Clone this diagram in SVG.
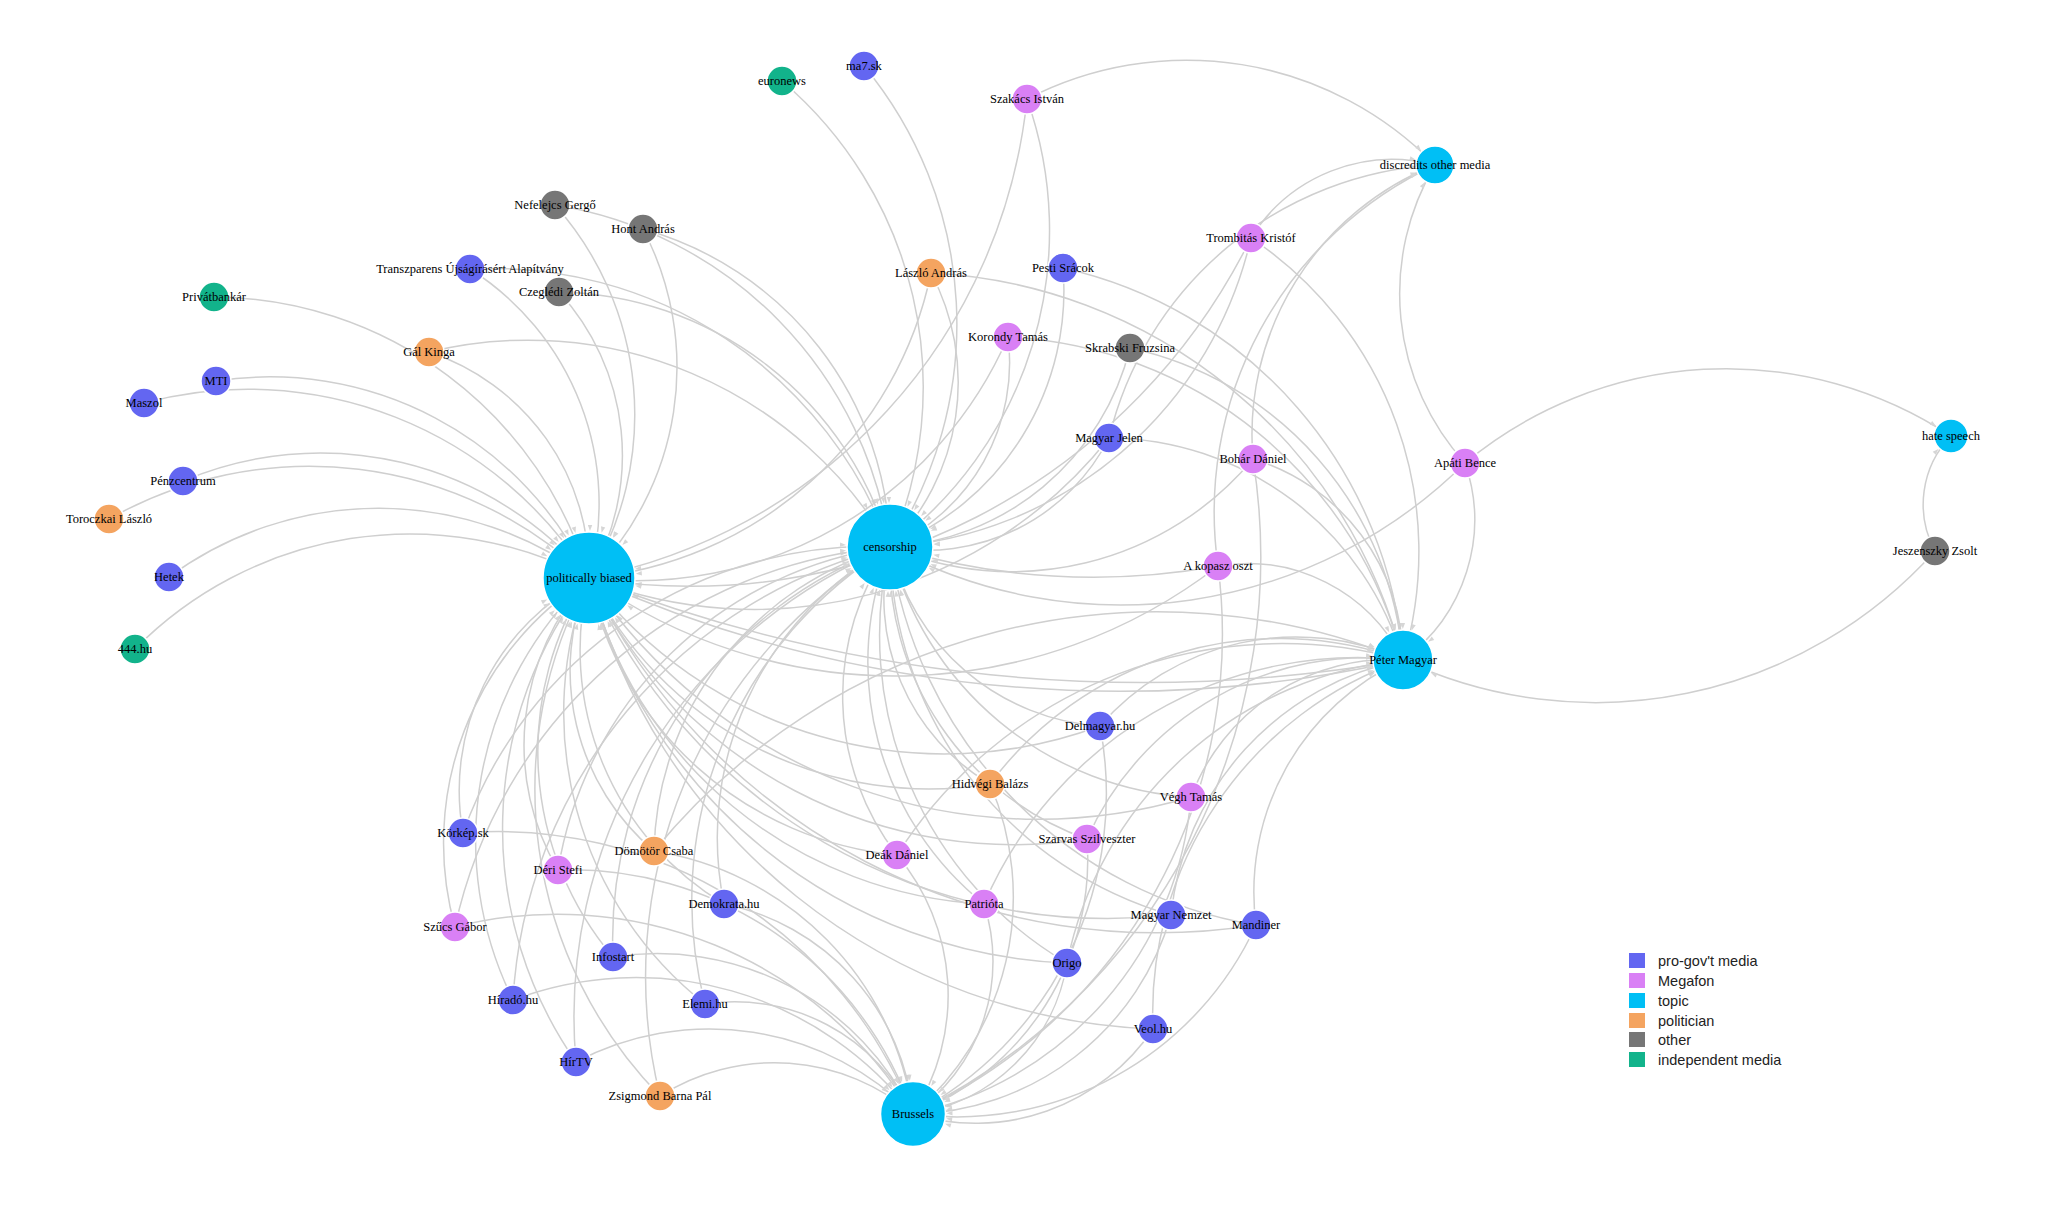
<svg xmlns="http://www.w3.org/2000/svg" width="2048" height="1226" viewBox="0 0 2048 1226">
<style>
.e{fill:none;stroke:#cfcfcf;stroke-width:1.5}
.p{marker-end:url(#aP)}.c{marker-end:url(#aC)}.b{marker-end:url(#aB)}.m{marker-end:url(#aM)}.d{marker-end:url(#aD)}.h{marker-end:url(#aH)}
.n circle{stroke:#ffffff;stroke-width:1.5}
.n text{font-family:"Liberation Serif","Times New Roman",serif;font-size:12.5px;fill:#000;text-anchor:middle;dominant-baseline:central}
.pg{fill:#6366f1}.mg{fill:#d980f5}.tp{fill:#00bff5}.po{fill:#f4a460}.ot{fill:#767676}.im{fill:#12b38b}
.leg text{font-family:"Liberation Sans",Arial,sans-serif;font-size:14.5px;fill:#222;dominant-baseline:central}
.ah{fill:#d6d6d6}
</style>
<defs>
<marker id="aP" markerUnits="userSpaceOnUse" orient="auto" refX="53" refY="0" markerWidth="8" markerHeight="8" overflow="visible"><path class="ah" d="M0,-2.2L6,0L0,2.2Z"/></marker>
<marker id="aC" markerUnits="userSpaceOnUse" orient="auto" refX="50" refY="0" markerWidth="8" markerHeight="8" overflow="visible"><path class="ah" d="M0,-2.2L6,0L0,2.2Z"/></marker>
<marker id="aB" markerUnits="userSpaceOnUse" orient="auto" refX="39.5" refY="0" markerWidth="8" markerHeight="8" overflow="visible"><path class="ah" d="M0,-2.2L6,0L0,2.2Z"/></marker>
<marker id="aM" markerUnits="userSpaceOnUse" orient="auto" refX="37" refY="0" markerWidth="8" markerHeight="8" overflow="visible"><path class="ah" d="M0,-2.2L6,0L0,2.2Z"/></marker>
<marker id="aD" markerUnits="userSpaceOnUse" orient="auto" refX="26" refY="0" markerWidth="8" markerHeight="8" overflow="visible"><path class="ah" d="M0,-2.2L6,0L0,2.2Z"/></marker>
<marker id="aH" markerUnits="userSpaceOnUse" orient="auto" refX="24" refY="0" markerWidth="8" markerHeight="8" overflow="visible"><path class="ah" d="M0,-2.2L6,0L0,2.2Z"/></marker>
</defs>
<g id="edges">
<path class="e p" d="M214 297A394 394 0 0 1 589 578"/>
<path class="e p" d="M144 403A402 402 0 0 1 589 578"/>
<path class="e p" d="M216 381A354 354 0 0 1 589 578"/>
<path class="e p" d="M183 481A351 351 0 0 1 589 578"/>
<path class="e p" d="M109 519A406 406 0 0 1 589 578"/>
<path class="e p" d="M169 577A353 353 0 0 1 589 578"/>
<path class="e p" d="M135 649A386 386 0 0 1 589 578"/>
<path class="e p" d="M429 352A233 233 0 0 1 589 578"/>
<path class="e p" d="M470 269A278 278 0 0 1 589 578"/>
<path class="e p" d="M559 292A242 242 0 0 1 589 578"/>
<path class="e p" d="M643 229A297 297 0 0 1 589 578"/>
<path class="e p" d="M555 205A315 315 0 0 1 589 578"/>
<path class="e p" d="M1027 99A545 545 0 0 1 589 578"/>
<path class="e p" d="M931 273A385 385 0 0 1 589 578"/>
<path class="e p" d="M1008 337A406 406 0 0 1 589 578"/>
<path class="e p" d="M1109 438A452 452 0 0 1 589 578"/>
<path class="e p" d="M1251 238A625 625 0 0 1 589 578"/>
<path class="e p" d="M1100 726A447 447 0 0 1 589 578"/>
<path class="e p" d="M990 784A379 379 0 0 1 589 578"/>
<path class="e p" d="M1191 797A538 538 0 0 1 589 578"/>
<path class="e p" d="M1087 839A472 472 0 0 1 589 578"/>
<path class="e p" d="M897 855A348 348 0 0 1 589 578"/>
<path class="e p" d="M984 904A430 430 0 0 1 589 578"/>
<path class="e p" d="M1171 915A565 565 0 0 1 589 578"/>
<path class="e p" d="M1067 963A516 516 0 0 1 589 578"/>
<path class="e p" d="M1256 925A632 632 0 0 1 589 578"/>
<path class="e p" d="M1153 1029A607 607 0 0 1 589 578"/>
<path class="e p" d="M463 833A239 239 0 0 1 589 578"/>
<path class="e p" d="M558 870A247 247 0 0 1 589 578"/>
<path class="e p" d="M455 927A314 314 0 0 1 589 578"/>
<path class="e p" d="M654 851A236 236 0 0 1 589 578"/>
<path class="e p" d="M724 904A296 296 0 0 1 589 578"/>
<path class="e p" d="M613 957A319 319 0 0 1 589 578"/>
<path class="e p" d="M513 1000A360 360 0 0 1 589 578"/>
<path class="e p" d="M705 1004A371 371 0 0 1 589 578"/>
<path class="e p" d="M576 1062A407 407 0 0 1 589 578"/>
<path class="e p" d="M660 1096A439 439 0 0 1 589 578"/>
<path class="e p" d="M1218 566A528 528 0 0 1 589 578"/>
<path class="e c" d="M782 81A402 402 0 0 1 890 547"/>
<path class="e c" d="M864 66A405 405 0 0 1 890 547"/>
<path class="e c" d="M1027 99A394 394 0 0 1 890 547"/>
<path class="e c" d="M555 205A402 402 0 0 1 890 547"/>
<path class="e c" d="M643 229A338 338 0 0 1 890 547"/>
<path class="e c" d="M470 269A423 423 0 0 1 890 547"/>
<path class="e c" d="M559 292A351 351 0 0 1 890 547"/>
<path class="e c" d="M429 352A420 420 0 0 1 890 547"/>
<path class="e c" d="M931 273A233 233 0 0 1 890 547"/>
<path class="e c" d="M1063 268A276 276 0 0 1 890 547"/>
<path class="e c" d="M1008 337A202 202 0 0 1 890 547"/>
<path class="e c" d="M1130 348A262 262 0 0 1 890 547"/>
<path class="e c" d="M1109 438A205 205 0 0 1 890 547"/>
<path class="e c" d="M1251 238A399 399 0 0 1 890 547"/>
<path class="e c" d="M1253 459A314 314 0 0 1 890 547"/>
<path class="e c" d="M1218 566A700 700 0 0 1 890 547"/>
<path class="e c" d="M1465 463A488 488 0 0 1 890 547"/>
<path class="e c" d="M1100 726A232 232 0 0 1 890 547"/>
<path class="e c" d="M990 784A216 216 0 0 1 890 547"/>
<path class="e c" d="M1191 797A329 329 0 0 1 890 547"/>
<path class="e c" d="M1087 839A296 296 0 0 1 890 547"/>
<path class="e c" d="M897 855A259 259 0 0 1 890 547"/>
<path class="e c" d="M984 904A310 310 0 0 1 890 547"/>
<path class="e c" d="M1171 915A389 389 0 0 1 890 547"/>
<path class="e c" d="M1067 963A380 380 0 0 1 890 547"/>
<path class="e c" d="M1256 925A442 442 0 0 1 890 547"/>
<path class="e c" d="M463 833A432 432 0 0 1 890 547"/>
<path class="e c" d="M558 870A389 389 0 0 1 890 547"/>
<path class="e c" d="M455 927A485 485 0 0 1 890 547"/>
<path class="e c" d="M654 851A323 323 0 0 1 890 547"/>
<path class="e c" d="M724 904A331 331 0 0 1 890 547"/>
<path class="e c" d="M613 957A416 416 0 0 1 890 547"/>
<path class="e c" d="M513 1000A495 495 0 0 1 890 547"/>
<path class="e c" d="M705 1004A414 414 0 0 1 890 547"/>
<path class="e c" d="M576 1062A507 507 0 0 1 890 547"/>
<path class="e c" d="M660 1096A500 500 0 0 1 890 547"/>
<path class="e b" d="M463 833A446 446 0 0 1 913 1114"/>
<path class="e b" d="M558 870A362 362 0 0 1 913 1114"/>
<path class="e b" d="M455 927A416 416 0 0 1 913 1114"/>
<path class="e b" d="M654 851A310 310 0 0 1 913 1114"/>
<path class="e b" d="M724 904A237 237 0 0 1 913 1114"/>
<path class="e b" d="M613 957A284 284 0 0 1 913 1114"/>
<path class="e b" d="M513 1000A349 349 0 0 1 913 1114"/>
<path class="e b" d="M705 1004A198 198 0 0 1 913 1114"/>
<path class="e b" d="M576 1062A286 286 0 0 1 913 1114"/>
<path class="e b" d="M660 1096A213 213 0 0 1 913 1114"/>
<path class="e b" d="M897 855A218 218 0 0 1 913 1114"/>
<path class="e b" d="M984 904A186 186 0 0 1 913 1114"/>
<path class="e b" d="M990 784A285 285 0 0 1 913 1114"/>
<path class="e b" d="M1100 726A362 362 0 0 1 913 1114"/>
<path class="e b" d="M1191 797A354 354 0 0 1 913 1114"/>
<path class="e b" d="M1087 839A273 273 0 0 1 913 1114"/>
<path class="e b" d="M1171 915A274 274 0 0 1 913 1114"/>
<path class="e b" d="M1067 963A181 181 0 0 1 913 1114"/>
<path class="e b" d="M1256 925A329 329 0 0 1 913 1114"/>
<path class="e b" d="M1153 1029A214 214 0 0 1 913 1114"/>
<path class="e b" d="M1253 459A620 620 0 0 1 913 1114"/>
<path class="e b" d="M1218 566A527 527 0 0 1 913 1114"/>
<path class="e m" d="M589 578A1300 1300 0 0 0 1403 660"/>
<path class="e m" d="M589 578A1520 1520 0 0 0 1403 660"/>
<path class="e m" d="M1251 238A377 377 0 0 1 1403 660"/>
<path class="e m" d="M1130 348A348 348 0 0 1 1403 660"/>
<path class="e m" d="M1008 337A429 429 0 0 1 1403 660"/>
<path class="e m" d="M1063 268A436 436 0 0 1 1403 660"/>
<path class="e m" d="M931 273A513 513 0 0 1 1403 660"/>
<path class="e m" d="M1109 438A309 309 0 0 1 1403 660"/>
<path class="e m" d="M1253 459A211 211 0 0 1 1403 660"/>
<path class="e m" d="M1218 566A174 174 0 0 1 1403 660"/>
<path class="e m" d="M1465 463A173 173 0 0 1 1403 660"/>
<path class="e m" d="M1935 551A456 456 0 0 1 1403 660"/>
<path class="e m" d="M1100 726A260 260 0 0 1 1403 660"/>
<path class="e m" d="M990 784A362 362 0 0 1 1403 660"/>
<path class="e m" d="M1191 797A212 212 0 0 1 1403 660"/>
<path class="e m" d="M1087 839A305 305 0 0 1 1403 660"/>
<path class="e m" d="M984 904A407 407 0 0 1 1403 660"/>
<path class="e m" d="M1171 915A290 290 0 0 1 1403 660"/>
<path class="e m" d="M1067 963A380 380 0 0 1 1403 660"/>
<path class="e m" d="M1256 925A255 255 0 0 1 1403 660"/>
<path class="e m" d="M1153 1029A374 374 0 0 1 1403 660"/>
<path class="e m" d="M897 855A456 456 0 0 1 1403 660"/>
<path class="e m" d="M654 851A649 649 0 0 1 1403 660"/>
<path class="e d" d="M1027 99A347 347 0 0 1 1435 165"/>
<path class="e d" d="M1251 238A166 166 0 0 1 1435 165"/>
<path class="e d" d="M1109 438A357 357 0 0 1 1435 165"/>
<path class="e d" d="M1253 459A290 290 0 0 1 1435 165"/>
<path class="e d" d="M1465 463A252 252 0 0 1 1435 165"/>
<path class="e d" d="M1218 566A383 383 0 0 1 1435 165"/>
<path class="e h" d="M1465 463A409 409 0 0 1 1951 436"/>
<path class="e h" d="M1935 551A98 98 0 0 1 1951 436"/>
</g>
<g id="nodes">
<g id="n-euronews" class="n"><circle class="im" cx="782" cy="81" r="15"/><text x="782" y="81">euronews</text></g>
<g id="n-ma7sk" class="n"><circle class="pg" cx="864" cy="66" r="15"/><text x="864" y="66">ma7.sk</text></g>
<g id="n-szakacs" class="n"><circle class="mg" cx="1027" cy="99" r="15"/><text x="1027" y="99">Szakács István</text></g>
<g id="n-nefelejcs" class="n"><circle class="ot" cx="555" cy="205" r="15"/><text x="555" y="205">Nefelejcs Gergő</text></g>
<g id="n-hont" class="n"><circle class="ot" cx="643" cy="229" r="15"/><text x="643" y="229">Hont András</text></g>
<g id="n-trombitas" class="n"><circle class="mg" cx="1251" cy="238" r="15"/><text x="1251" y="238">Trombitás Kristóf</text></g>
<g id="n-transzparens" class="n"><circle class="pg" cx="470" cy="269" r="15"/><text x="470" y="269">Transzparens Újságírásért Alapítvány</text></g>
<g id="n-czegledi" class="n"><circle class="ot" cx="559" cy="292" r="15"/><text x="559" y="292">Czeglédi Zoltán</text></g>
<g id="n-privatbankar" class="n"><circle class="im" cx="214" cy="297" r="15"/><text x="214" y="297">Privátbankár</text></g>
<g id="n-laszlo" class="n"><circle class="po" cx="931" cy="273" r="15"/><text x="931" y="273">László András</text></g>
<g id="n-pesti" class="n"><circle class="pg" cx="1063" cy="268" r="15"/><text x="1063" y="268">Pesti Srácok</text></g>
<g id="n-korondy" class="n"><circle class="mg" cx="1008" cy="337" r="15"/><text x="1008" y="337">Korondy Tamás</text></g>
<g id="n-skrabski" class="n"><circle class="ot" cx="1130" cy="348" r="15"/><text x="1130" y="348">Skrabski Fruzsina</text></g>
<g id="n-gal" class="n"><circle class="po" cx="429" cy="352" r="15"/><text x="429" y="352">Gál Kinga</text></g>
<g id="n-mti" class="n"><circle class="pg" cx="216" cy="381" r="15"/><text x="216" y="381">MTI</text></g>
<g id="n-maszol" class="n"><circle class="pg" cx="144" cy="403" r="15"/><text x="144" y="403">Maszol</text></g>
<g id="n-magyarjelen" class="n"><circle class="pg" cx="1109" cy="438" r="15"/><text x="1109" y="438">Magyar Jelen</text></g>
<g id="n-bohar" class="n"><circle class="mg" cx="1253" cy="459" r="15"/><text x="1253" y="459">Bohár Dániel</text></g>
<g id="n-apati" class="n"><circle class="mg" cx="1465" cy="463" r="15"/><text x="1465" y="463">Apáti Bence</text></g>
<g id="n-penzcentrum" class="n"><circle class="pg" cx="183" cy="481" r="15"/><text x="183" y="481">Pénzcentrum</text></g>
<g id="n-toroczkai" class="n"><circle class="po" cx="109" cy="519" r="15"/><text x="109" y="519">Toroczkai László</text></g>
<g id="n-akopasz" class="n"><circle class="mg" cx="1218" cy="566" r="15"/><text x="1218" y="566">A kopasz oszt</text></g>
<g id="n-jeszenszky" class="n"><circle class="ot" cx="1935" cy="551" r="15"/><text x="1935" y="551">Jeszenszky Zsolt</text></g>
<g id="n-hetek" class="n"><circle class="pg" cx="169" cy="577" r="15"/><text x="169" y="577">Hetek</text></g>
<g id="n-444" class="n"><circle class="im" cx="135" cy="649" r="15"/><text x="135" y="649">444.hu</text></g>
<g id="n-delmagyar" class="n"><circle class="pg" cx="1100" cy="726" r="15"/><text x="1100" y="726">Delmagyar.hu</text></g>
<g id="n-hidvegi" class="n"><circle class="po" cx="990" cy="784" r="15"/><text x="990" y="784">Hidvégi Balázs</text></g>
<g id="n-vegh" class="n"><circle class="mg" cx="1191" cy="797" r="15"/><text x="1191" y="797">Végh Tamás</text></g>
<g id="n-korkep" class="n"><circle class="pg" cx="463" cy="833" r="15"/><text x="463" y="833">Körkép.sk</text></g>
<g id="n-szarvas" class="n"><circle class="mg" cx="1087" cy="839" r="15"/><text x="1087" y="839">Szarvas Szilveszter</text></g>
<g id="n-domotor" class="n"><circle class="po" cx="654" cy="851" r="15"/><text x="654" y="851">Dömötör Csaba</text></g>
<g id="n-deak" class="n"><circle class="mg" cx="897" cy="855" r="15"/><text x="897" y="855">Deák Dániel</text></g>
<g id="n-deri" class="n"><circle class="mg" cx="558" cy="870" r="15"/><text x="558" y="870">Déri Stefi</text></g>
<g id="n-patriota" class="n"><circle class="mg" cx="984" cy="904" r="15"/><text x="984" y="904">Patrióta</text></g>
<g id="n-demokrata" class="n"><circle class="pg" cx="724" cy="904" r="15"/><text x="724" y="904">Demokrata.hu</text></g>
<g id="n-magyarnemzet" class="n"><circle class="pg" cx="1171" cy="915" r="15"/><text x="1171" y="915">Magyar Nemzet</text></g>
<g id="n-mandiner" class="n"><circle class="pg" cx="1256" cy="925" r="15"/><text x="1256" y="925">Mandiner</text></g>
<g id="n-szucs" class="n"><circle class="mg" cx="455" cy="927" r="15"/><text x="455" y="927">Szűcs Gábor</text></g>
<g id="n-infostart" class="n"><circle class="pg" cx="613" cy="957" r="15"/><text x="613" y="957">Infostart</text></g>
<g id="n-origo" class="n"><circle class="pg" cx="1067" cy="963" r="15"/><text x="1067" y="963">Origo</text></g>
<g id="n-hirado" class="n"><circle class="pg" cx="513" cy="1000" r="15"/><text x="513" y="1000">Híradó.hu</text></g>
<g id="n-elemi" class="n"><circle class="pg" cx="705" cy="1004" r="15"/><text x="705" y="1004">Elemi.hu</text></g>
<g id="n-veol" class="n"><circle class="pg" cx="1153" cy="1029" r="15"/><text x="1153" y="1029">Veol.hu</text></g>
<g id="n-hirtv" class="n"><circle class="pg" cx="576" cy="1062" r="15"/><text x="576" y="1062">HírTV</text></g>
<g id="n-zsigmond" class="n"><circle class="po" cx="660" cy="1096" r="15"/><text x="660" y="1096">Zsigmond Barna Pál</text></g>
<g id="n-discredits" class="n"><circle class="tp" cx="1435" cy="165" r="19"/><text x="1435" y="165">discredits other media</text></g>
<g id="n-hatespeech" class="n"><circle class="tp" cx="1951" cy="436" r="17"/><text x="1951" y="436">hate speech</text></g>
<g id="n-petermagyar" class="n"><circle class="tp" cx="1403" cy="660" r="30"/><text x="1403" y="660">Péter Magyar</text></g>
<g id="n-brussels" class="n"><circle class="tp" cx="913" cy="1114" r="32.5"/><text x="913" y="1114">Brussels</text></g>
<g id="n-censorship" class="n"><circle class="tp" cx="890" cy="547" r="43"/><text x="890" y="547">censorship</text></g>
<g id="n-politicallybiased" class="n"><circle class="tp" cx="589" cy="578" r="46"/><text x="589" y="578">politically biased</text></g>
</g>
<g id="legend" class="leg">
<rect class="pg" x="1629" y="953" width="16" height="15"/><text x="1658" y="961">pro-gov't media</text>
<rect class="mg" x="1629" y="973" width="16" height="15"/><text x="1658" y="981">Megafon</text>
<rect class="tp" x="1629" y="993" width="16" height="15"/><text x="1658" y="1001">topic</text>
<rect class="po" x="1629" y="1013" width="16" height="15"/><text x="1658" y="1021">politician</text>
<rect class="ot" x="1629" y="1032" width="16" height="15"/><text x="1658" y="1040">other</text>
<rect class="im" x="1629" y="1052" width="16" height="15"/><text x="1658" y="1060">independent media</text>
</g>
</svg>
